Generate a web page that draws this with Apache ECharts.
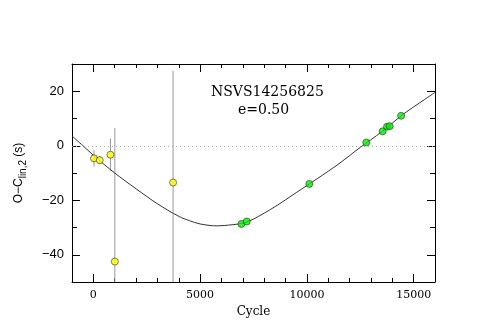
<!DOCTYPE html>
<html>
<head>
<meta charset="utf-8">
<script src="https://cdn.jsdelivr.net/npm/echarts@6/dist/echarts.min.js"></script>
<style>
html, body { margin: 0; padding: 0; background: #fff; }
#chart { width: 480px; height: 333px; }
</style>
</head>
<body>
<div id="chart"></div>
<script>
// older minima (yellow), with errors
const oldCycle = [30, 300, 800, 1005, 3735];
const oldOC = [-4.6, -5.3, -3.3, -42.5, -13.5];
const oldErr = [3.0, 1.5, 6.0, 49, 41];
// newer minima (green)
const newCycle = [6933, 7183, 10113, 12780, 13547, 13753, 13877, 14412];
const newOC = [-28.7, -27.8, -14.0, 1.2, 5.3, 7.0, 7.2, 11.0];
// fitted curve
const fitCycle = [-1000, -500, 0, 1000, 2000, 3000, 4000, 4500, 5000, 5750, 6500, 7000, 7500, 8500, 9500, 10500, 11500, 12500, 13500, 14500, 15500, 16000];
const fitOC = [3.6, 0.1, -3.5, -10.0, -15.8, -21.3, -25.9, -27.5, -28.7, -29.4, -29.0, -28.4, -26.9, -22.4, -17.2, -12.0, -6.6, -0.6, 5.1, 11.5, 16.9, 19.6];
// tick labels
const xTicks = [0, 5000, 10000, 15000];
const yTicks = [-40, -20, 0, 20];

const X_MIN = -1000, X_MAX = 16000;
const Y_MIN = -50, Y_MAX = 30;

const chart = echarts.init(document.getElementById('chart'), null, { renderer: 'canvas' });

const lineStyle = { color: '#000', width: 1 };
const fmt = v => String(v).replace('-', '\u2212');

// minor ticks axis / major ticks axis, bottom and top
function xAxis(position, major, withLabels) {
    return {
        type: 'value',
        position: position,
        min: X_MIN,
        max: X_MAX,
        interval: 1000,
        splitLine: { show: false },
        axisLine: { show: !major, onZero: false, lineStyle: lineStyle },
        axisTick: major
            ? { inside: true, length: 8, customValues: xTicks, lineStyle: lineStyle }
            : { inside: true, length: 4, lineStyle: lineStyle },
        axisLabel: withLabels
            ? { customValues: xTicks, formatter: fmt, margin: 8, color: '#000', fontFamily: 'DejaVu Serif', fontSize: 11 }
            : { show: false }
    };
}
function yAxis(position, major, withLabels) {
    return {
        type: 'value',
        position: position,
        min: Y_MIN,
        max: Y_MAX,
        interval: 10,
        splitLine: { show: false },
        axisLine: { show: !major, onZero: false, lineStyle: lineStyle },
        axisTick: major
            ? { inside: true, length: 8, customValues: yTicks, lineStyle: lineStyle }
            : { inside: true, length: 5, lineStyle: lineStyle },
        axisLabel: withLabels
            ? { customValues: yTicks, formatter: fmt, margin: 8, color: '#000', fontFamily: 'Liberation Sans', fontSize: 13 }
            : { show: false }
    };
}

const xs = [xAxis('bottom', false, false), xAxis('bottom', true, true), xAxis('top', false, false), xAxis('top', true, false)];
xs[1].name = 'Cycle';
xs[1].nameLocation = 'middle';
xs[1].nameGap = 23;
xs[1].nameTextStyle = { color: '#000', fontFamily: 'DejaVu Serif', fontSize: 12 };

const ys = [yAxis('left', false, false), yAxis('left', true, true), yAxis('right', false, false), yAxis('right', true, false)];
ys[1].name = '{a|O\u2212C}{b|lin,2}{a| (s)}';
ys[1].nameLocation = 'middle';
ys[1].nameRotate = 90;
ys[1].nameGap = 44;
ys[1].nameTextStyle = {
    color: '#000',
    rich: {
        a: { fontFamily: 'Liberation Sans', fontSize: 12, lineHeight: 18, color: '#000' },
        b: { fontFamily: 'Liberation Sans', fontSize: 10, lineHeight: 10, verticalAlign: 'bottom', color: '#000' }
    }
};

const option = {
    animation: false,
    backgroundColor: '#fff',
    grid: { left: 72, right: 45, top: 64, bottom: 51 },
    xAxis: xs,
    yAxis: ys,
    graphic: [
        {
            type: 'text', left: 211, top: 85,
            style: { text: 'NSVS14256825', fill: '#000', font: '14px "DejaVu Serif"' }
        },
        {
            type: 'text', left: 238, top: 103,
            style: { text: 'e=0.50', fill: '#000', font: '14px "DejaVu Serif"' }
        }
    ],
    series: [
        {
            type: 'line',
            xAxisIndex: 0,
            yAxisIndex: 0,
            data: fitCycle.map((c, i) => [c, fitOC[i]]),
            smooth: 0.3,
            showSymbol: false,
            lineStyle: { color: '#333', width: 1 },
            markLine: {
                silent: true,
                symbol: 'none',
                label: { show: false },
                lineStyle: { color: '#aaa', type: [1, 3], width: 1 },
                data: [{ yAxis: 0 }]
            },
            z: 2
        },
        {
            type: 'custom',
            xAxisIndex: 0,
            yAxisIndex: 0,
            clip: true,
            data: oldCycle.map((c, i) => [c, oldOC[i], oldErr[i]]),
            encode: { x: 0, y: 1 },
            renderItem: function (params, api) {
                const x = api.value(0), y = api.value(1), e = api.value(2);
                const lo = api.coord([x, Math.max(y - e, Y_MIN)]);
                const hi = api.coord([x, Math.min(y + e, Y_MAX)]);
                return {
                    type: 'line',
                    shape: { x1: lo[0], y1: lo[1], x2: hi[0], y2: hi[1] },
                    style: { stroke: '#999', lineWidth: 1 }
                };
            },
            z: 1
        },
        {
            type: 'scatter',
            xAxisIndex: 0,
            yAxisIndex: 0,
            data: oldCycle.map((c, i) => [c, oldOC[i]]),
            symbolSize: 7,
            itemStyle: { color: '#ffff00', borderColor: '#333', borderWidth: 0.8 },
            z: 3
        },
        {
            type: 'scatter',
            xAxisIndex: 0,
            yAxisIndex: 0,
            data: newCycle.map((c, i) => [c, newOC[i]]),
            symbolSize: 7,
            itemStyle: { color: '#00f000', borderColor: '#333', borderWidth: 0.8 },
            z: 3
        }
    ]
};

chart.setOption(option);
</script>
</body>
</html>
